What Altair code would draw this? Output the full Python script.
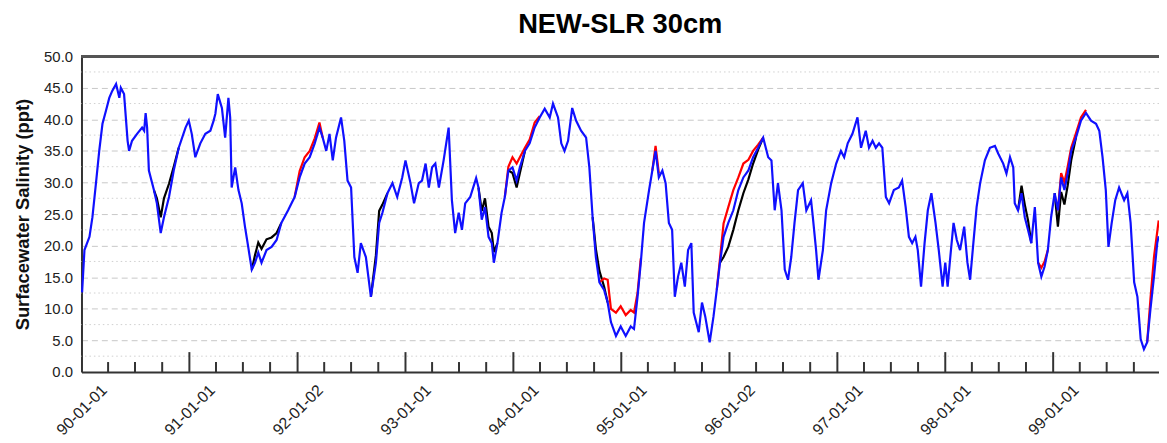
import altair as alt
import pandas as pd

TITLE = "NEW-SLR 30cm"
Y_TITLE = "Surfacewater Salinity (ppt)"
START = "1990-01-01"
FONT = "Liberation Sans"

# (days since 1990-01-01, salinity ppt)
blue = [
    (2, 12.6), (10, 19.3), (27, 21.4), (37, 24.5), (49, 29.9), (60, 35), (71, 39.3), (83, 41.4),
    (94, 43.4), (104, 44.5), (117, 45.6), (128, 43.4), (133, 45), (144, 44), (156, 36.6), (161, 35),
    (171, 36.6), (188, 37.7), (205, 38.7), (212, 38.2), (217, 41), (222, 38.7), (228, 31.9), (245, 28.8),
    (255, 26.7), (268, 22), (279, 24.5), (296, 27.7), (312, 31.9), (329, 35.5), (352, 38.7), (363, 39.8),
    (373, 37.7), (385, 34), (402, 36.2), (419, 37.7), (436, 38.2), (447, 39.8), (453, 40.9), (461, 44),
    (475, 41.8), (486, 37.1), (497, 43.4), (503, 40.3), (508, 29.2), (520, 32.4), (531, 28.8), (542, 26.7),
    (553, 23), (564, 19.8), (576, 16.2), (587, 17.3), (598, 18.9), (609, 17.3), (626, 19.3), (643, 19.8),
    (660, 20.9), (676, 23.6), (699, 25.6), (721, 27.7), (738, 30.8), (755, 33), (772, 34), (789, 36.2),
    (805, 38.7), (816, 37.1), (828, 35), (839, 37.7), (850, 33.5), (861, 37.1), (878, 40.3), (889, 36.6),
    (900, 30.3), (912, 29.2), (923, 18.2), (934, 15.7), (945, 20.4), (962, 18.2), (979, 11.9), (996, 17.3),
    (1007, 23.6), (1018, 25.2), (1035, 28.3), (1052, 29.9), (1068, 27.7), (1085, 30.8), (1096, 33.5),
    (1113, 29.9), (1125, 26.7), (1141, 29.9), (1152, 30.3), (1164, 33), (1175, 29.2), (1186, 32.4),
    (1197, 33), (1209, 29.2), (1225, 33.5), (1242, 38.7), (1253, 27.2), (1264, 22), (1276, 25.2),
    (1287, 22.5), (1298, 26.7), (1315, 27.7), (1335, 30.7), (1343, 29.2), (1354, 24.1), (1365, 26.1),
    (1377, 21.4), (1388, 20.4), (1395, 17.3), (1407, 20.4), (1421, 25.2), (1432, 27.7), (1444, 31.9),
    (1458, 32.4), (1472, 30.3), (1483, 32.4), (1500, 35), (1516, 36.2), (1533, 38.7), (1550, 40.3),
    (1567, 41.7), (1584, 40.3), (1595, 42.5), (1612, 40.3), (1623, 36.2), (1634, 35), (1646, 36.6),
    (1660, 41.8), (1673, 39.8), (1690, 38.2), (1707, 37.1), (1718, 32.4), (1729, 24.5), (1740, 18.2),
    (1752, 14.2), (1768, 13), (1780, 11), (1791, 7.9), (1808, 5.7), (1824, 7.2), (1841, 5.7), (1858, 7.2),
    (1869, 6.8), (1881, 11.9), (1892, 17.3), (1903, 23.6), (1920, 28.8), (1931, 31.9), (1942, 35),
    (1953, 30.8), (1965, 31.9), (1976, 29.9), (1987, 23.6), (1998, 22.5), (2007, 11.9), (2018, 15.1),
    (2029, 17.3), (2041, 13.5), (2052, 19.3), (2063, 20.4), (2071, 9.4), (2088, 6.3), (2099, 11),
    (2110, 8.8), (2125, 4.7), (2138, 8.8), (2149, 13), (2160, 17.3), (2172, 21.4), (2188, 23.6),
    (2205, 25.6), (2222, 28.8), (2239, 30.8), (2256, 31.9), (2272, 34), (2289, 35.5), (2306, 37.1),
    (2323, 34), (2334, 33.5), (2345, 25.6), (2356, 29.9), (2368, 25.6), (2379, 16.2), (2390, 14.6),
    (2401, 18.2), (2412, 23.6), (2424, 28.8), (2440, 29.9), (2452, 25.6), (2468, 27.2), (2474, 24.5),
    (2485, 19.3), (2493, 14.6), (2508, 19.3), (2519, 25.6), (2536, 29.9), (2553, 33), (2569, 35),
    (2580, 34), (2592, 36.2), (2608, 37.7), (2625, 40.3), (2637, 35.5), (2653, 38.2), (2664, 35.5),
    (2676, 36.6), (2687, 35.5), (2698, 36.2), (2709, 35.5), (2721, 27.7), (2732, 26.7), (2748, 28.8),
    (2765, 29.2), (2776, 30.3), (2788, 26.1), (2799, 21.4), (2810, 20.4), (2821, 21.4), (2829, 19.3),
    (2840, 13.5), (2852, 20.4), (2863, 25.6), (2875, 28.3), (2889, 23.6), (2900, 19.3), (2913, 13.5),
    (2922, 17.3), (2930, 13.5), (2939, 18.2), (2950, 23.6), (2961, 20.9), (2972, 19.3), (2986, 23),
    (2997, 17.3), (3006, 14.6), (3017, 20.4), (3028, 26.1), (3040, 29.9), (3056, 33.5), (3073, 35.5),
    (3090, 35.8), (3101, 34.6), (3118, 33), (3129, 31.4), (3141, 34), (3152, 32.4), (3157, 26.7),
    (3168, 25.6), (3180, 28.3), (3191, 24.5), (3202, 22.5), (3213, 20.4), (3225, 26.1), (3236, 17.3),
    (3247, 15.1), (3258, 16.7), (3269, 19.3), (3280, 24.5), (3292, 28.3), (3303, 25.6), (3314, 30.8),
    (3325, 28.8), (3336, 31.4), (3348, 35), (3364, 37.1), (3381, 39.8), (3398, 41), (3415, 39.8),
    (3432, 39.3), (3443, 38.2), (3454, 34), (3465, 28.8), (3474, 19.8), (3485, 23.6), (3497, 27.2),
    (3510, 29.2), (3527, 27.2), (3538, 28.3), (3549, 23.6), (3561, 14.2), (3572, 11.9), (3583, 5.2),
    (3594, 3.6), (3605, 4.7), (3616, 9.9), (3628, 15.1), (3639, 20.4), (3644, 21.5),
]

# black series: stretches where it departs from the blue one
black_segments = [
    [(245, 28.8), (255, 27.5), (268, 24.5), (279, 27.5), (296, 29.8), (312, 32.5), (329, 35.5)],
    [(576, 16.2), (587, 18.5), (598, 20.5), (609, 19.5), (626, 21), (643, 21.3), (660, 22), (676, 23.6)],
    [(979, 11.9), (996, 18.5), (1007, 25.5), (1018, 26.5), (1035, 28.3)],
    [(1343, 29.2), (1354, 25.5), (1365, 27.5), (1377, 23), (1388, 22), (1395, 19), (1407, 20.4)],
    [(1444, 31.9), (1458, 31.5), (1472, 29.2), (1483, 31.5), (1500, 35)],
    [(1729, 24.5), (1740, 19.5), (1752, 16), (1768, 13.5), (1780, 11)],
    [(2160, 17.3), (2172, 18.2), (2188, 19.8), (2205, 22.5), (2222, 25.6), (2239, 28.3), (2256, 30.5),
     (2272, 33), (2289, 35.2), (2306, 37.1)],
    [(3168, 25.6), (3180, 29.5), (3191, 26.5), (3202, 24), (3213, 20.4)],
    [(3292, 28.3), (3303, 23), (3314, 28.5), (3325, 26.5), (3336, 29.5), (3348, 33.5), (3364, 37.1)],
]

# red series: stretches where it departs from the blue one
red_segments = [
    [(721, 27.7), (738, 31.8), (755, 34), (772, 35), (789, 37), (805, 39.5), (816, 37.1)],
    [(1432, 27.7), (1444, 32.5), (1458, 34), (1472, 33), (1483, 34), (1500, 35.5), (1516, 36.8),
     (1533, 39.5), (1550, 40.5)],
    [(1752, 14.2), (1768, 14.8), (1780, 14.6), (1791, 10), (1808, 9.4), (1824, 10.4), (1841, 9),
     (1858, 9.8), (1869, 9.4), (1881, 12.5), (1892, 18)],
    [(1931, 31.9), (1942, 35.8), (1953, 31.5)],
    [(2149, 13), (2160, 18), (2172, 23.5), (2188, 26.1), (2205, 28.8), (2222, 30.8), (2239, 33),
     (2256, 33.6), (2272, 35), (2289, 36), (2306, 37.1)],
    [(3236, 17.3), (3247, 16.5), (3258, 17.5), (3269, 19.3)],
    [(3303, 25.6), (3314, 31.5), (3325, 30), (3336, 32.5), (3348, 35.5), (3364, 37.8), (3381, 40.3),
     (3398, 41.5)],
    [(3605, 4.7), (3616, 11.5), (3628, 18.2), (3644, 24)],
]

label_dates = [(1990, 1, 1), (1991, 1, 1), (1992, 1, 2), (1993, 1, 1), (1994, 1, 1),
               (1995, 1, 1), (1996, 1, 2), (1997, 1, 1), (1998, 1, 1), (1999, 1, 1)]
minor_months = [4, 7, 10]
y_major = [0, 5, 10, 15, 20, 25, 30, 35, 40, 45, 50]
y_minor = [2.5, 7.5, 12.5, 17.5, 22.5, 27.5, 32.5, 37.5, 42.5, 47.5]

W, H = 1085, 318
base = pd.Timestamp(START)


def to_frame(pairs, seg=0):
    return pd.DataFrame({
        "date": [(base + pd.Timedelta(days=d)).strftime("%Y-%m-%d") for d, _ in pairs],
        "value": [v for _, v in pairs],
        "seg": seg,
    })


blue_df = to_frame(blue)
black_df = pd.concat([to_frame(s, i) for i, s in enumerate(black_segments)], ignore_index=True)
red_df = pd.concat([to_frame(s, i) for i, s in enumerate(red_segments)], ignore_index=True)

major_df = pd.DataFrame({"date": [f"{y}-{m:02d}-{d:02d}" for y, m, d in label_dates[1:]]})
minor_df = pd.DataFrame({"date": [f"{y}-{m:02d}-01" for y in range(1990, 2000) for m in minor_months]})
ygrid_df = pd.DataFrame({"v": y_minor})

x_scale = alt.Scale(type="utc", domain=[alt.DateTime(year=1990, month=1, date=1, utc=True),
                                        alt.DateTime(year=1999, month=12, date=25, utc=True)])
y_scale = alt.Scale(domain=[0, 50], nice=False)

x_axis = alt.Axis(
    values=[alt.DateTime(year=y, month=m, date=d, utc=True) for y, m, d in label_dates],
    format="%y-%m-%d", labelAngle=315, labelAlign="center", labelBaseline="middle",
    labelPadding=38, ticks=False, grid=False, domainColor="#333333", domainWidth=2,
    labelFont=FONT, labelFontSize=16, labelColor="#222222", labelOverlap=False,
    labelFlush=False, labelBound=False, title="",
)
y_axis = alt.Axis(
    values=y_major, format=".1f", ticks=False, grid=True, gridColor="#c8c8c8",
    gridDash=[6, 4], gridWidth=1, domainColor="#333333", domainWidth=2,
    labelFont=FONT, labelFontSize=15, labelColor="#222222", labelPadding=9,
    title=Y_TITLE, titleFont=FONT, titleFontSize=18.5, titleFontWeight="bold", titleColor="#111111",
    titleAngle=270, titleX=-59, titleY=H / 2, titleAlign="center", titleBaseline="middle",
)

X = alt.X("date:T", scale=x_scale, axis=x_axis)
Y = alt.Y("value:Q", scale=y_scale, axis=y_axis)

grid_minor = alt.Chart(ygrid_df).mark_rule(color="#d0d0d0", strokeDash=[1.5, 3], strokeWidth=1).encode(
    y=alt.Y("v:Q", scale=y_scale, axis=y_axis)
)
top_border = alt.Chart(ygrid_df).mark_rule(color="#555555", strokeWidth=2.5).encode(
    x=alt.value(0), x2=alt.value(W), y=alt.value(0)
)
major_ticks = alt.Chart(major_df).mark_rule(color="#333333", strokeWidth=2).encode(
    x=alt.X("date:T", scale=x_scale, axis=x_axis), y=alt.value(H), y2=alt.value(H - 20)
)
minor_ticks = alt.Chart(minor_df).mark_rule(color="#333333", strokeWidth=2).encode(
    x=alt.X("date:T", scale=x_scale, axis=x_axis), y=alt.value(H), y2=alt.value(H - 10)
)

black_line = alt.Chart(black_df).mark_line(color="#000000", strokeWidth=2.2).encode(x=X, y=Y, detail="seg:N")
red_line = alt.Chart(red_df).mark_line(color="#ff0000", strokeWidth=2.2).encode(x=X, y=Y, detail="seg:N")
blue_line = alt.Chart(blue_df).mark_line(color="#1010ff", strokeWidth=2.2).encode(x=X, y=Y)

chart = alt.layer(
    grid_minor, black_line, red_line, blue_line, major_ticks, minor_ticks, top_border
).properties(
    width=W, height=H,
    title=alt.TitleParams(TITLE, font=FONT, fontSize=27.5, fontWeight="bold", color="#000000",
                          anchor="middle", offset=11),
    autosize=alt.AutoSizeParams(type="none"),
    padding={"left": 74, "top": 47, "right": 0, "bottom": 68},
    background="white",
).configure_view(strokeWidth=0)

chart.save("out.html", embed_options={"renderer": "svg", "actions": False})
